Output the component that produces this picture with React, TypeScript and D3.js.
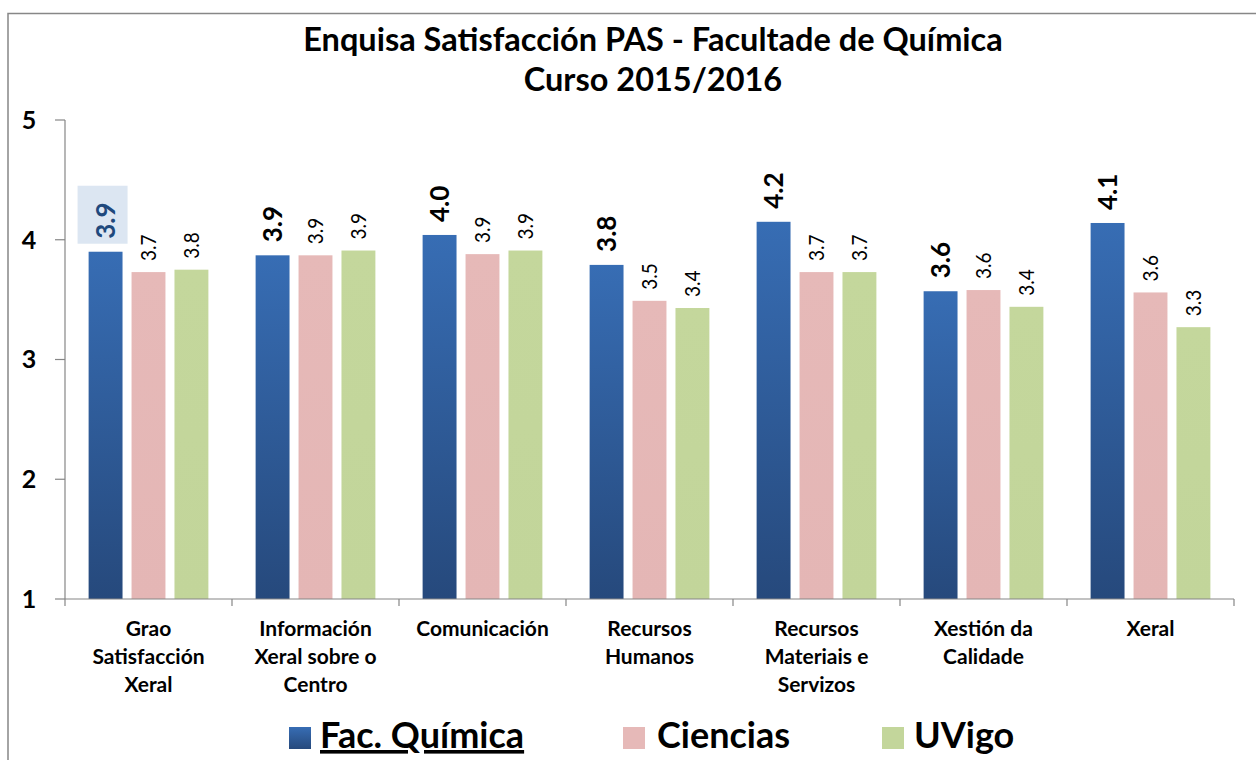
import React from "react";
import * as d3 from "d3";

const categories = [
  "Grao\nSatisfacción\nXeral",
  "Información\nXeral sobre o\nCentro",
  "Comunicación",
  "Recursos\nHumanos",
  "Recursos\nMateriais e\nServizos",
  "Xestión da\nCalidade",
  "Xeral",
];
const seriesNames = ["Fac. Química", "Ciencias", "UVigo"];
const facQuimica = [3.9, 3.87, 4.04, 3.79, 4.15, 3.57, 4.14];
const ciencias = [3.73, 3.87, 3.88, 3.49, 3.73, 3.58, 3.56];
const uvigo = [3.75, 3.91, 3.91, 3.43, 3.73, 3.44, 3.27];
const yTicks = [1, 2, 3, 4, 5];
const titleLines = ["Enquisa Satisfacción PAS - Facultade de Química", "Curso 2015/2016"];

const W = 1256;
const H = 760;
const FONT = "Lato, 'Open Sans', sans-serif";

export default function App() {
  const series = [facQuimica, ciencias, uvigo];
  const colors = ["url(#gBlue)", "url(#gPink)", "url(#gGreen)"];
  const swatch = ["#3465a8", "#e6b9b8", "#c3d69b"];
  const x0 = d3.scaleBand<number>().domain(d3.range(categories.length)).range([65, 1234]).padding(0);
  const x1 = d3
    .scaleBand<number>()
    .domain(d3.range(3))
    .range([0, x0.bandwidth()])
    .paddingInner(0.21)
    .paddingOuter(0.55);
  const y = d3.scaleLinear().domain([1, 5]).range([599, 120]);
  const baseY = y(1);

  return (
    <div style={{ position: "absolute", left: 0, top: 0 }}>
      <svg width={W} height={H} style={{ display: "block", background: "#fff" }}>
        <defs>
          <linearGradient id="gBlue" x1="0" y1="0" x2="0" y2="1">
            <stop offset="0" stopColor="#376db4" />
            <stop offset="1" stopColor="#26497c" />
          </linearGradient>
          <linearGradient id="gPink" x1="0" y1="0" x2="0" y2="1">
            <stop offset="0" stopColor="#e6b9b8" />
            <stop offset="1" stopColor="#e4b6b5" />
          </linearGradient>
          <linearGradient id="gGreen" x1="0" y1="0" x2="0" y2="1">
            <stop offset="0" stopColor="#c4d79c" />
            <stop offset="1" stopColor="#c2d59a" />
          </linearGradient>
        </defs>
        {/* frame */}
        <rect x={8} y={13.5} width={1260} height={800} fill="none" stroke="#878787" strokeWidth={1.5} />

        {/* title */}
        {titleLines.map((t, i) => (
          <text
            key={i}
            x={653}
            y={51 + i * 40}
            textAnchor="middle"
            fontFamily={FONT}
            fontWeight="bold"
            fontSize={32.5}
            fill="#000"
          >
            {t}
          </text>
        ))}

        {/* y axis */}
        <line x1={65} x2={65} y1={y(5)} y2={baseY} stroke="#868686" strokeWidth={1.2} />
        {yTicks.map((t) => (
          <g key={t}>
            <line x1={55} x2={65} y1={y(t)} y2={y(t)} stroke="#868686" strokeWidth={1.2} />
            <text
              x={29}
              y={y(t)}
              dy="0.35em"
              textAnchor="middle"
              fontFamily={FONT}
              fontWeight="bold"
              fontSize={25}
            >
              {t}
            </text>
          </g>
        ))}

        {/* bars */}
        {categories.map((c, ci) =>
          series.map((s, si) => {
            const bx = (x0(ci) as number) + (x1(si) as number);
            const bw = x1.bandwidth();
            const top = y(s[ci]);
            return (
              <rect
                key={`${ci}-${si}`}
                x={bx}
                y={top}
                width={bw}
                height={baseY - top}
                fill={colors[si]}
              />
            );
          })
        )}

        {/* x axis */}
        <line x1={65} x2={1234} y1={baseY} y2={baseY} stroke="#868686" strokeWidth={1.2} />
        {d3.range(categories.length + 1).map((i) => {
          const xx = 65 + i * x0.step();
          return <line key={i} x1={xx} x2={xx} y1={baseY} y2={baseY + 7} stroke="#868686" strokeWidth={1.2} />;
        })}

        {/* data labels */}
        {categories.map((c, ci) =>
          series.map((s, si) => {
            const cx = (x0(ci) as number) + (x1(si) as number) + x1.bandwidth() / 2;
            const top = y(s[ci]);
            const bold = si === 0;
            const gap = bold ? 13 : 11;
            const ly = top - gap;
            const label = d3.format(".1f")(s[ci]);
            return (
              <g key={`l-${ci}-${si}`}>
                {ci === 0 && si === 0 && (
                  <rect x={cx - 28} y={top - 66} width={50} height={58} fill="#dce6f2" />
                )}
                <text
                  transform={`translate(${cx},${ly}) rotate(-90) scale(1,${bold ? 1 : 1.15})`}
                  dy="0.36em"
                  textAnchor="start"
                  fontFamily={FONT}
                  fontWeight={bold ? "bold" : "normal"}
                  fontSize={bold ? 26 : 19}
                  fill={ci === 0 && si === 0 ? "#1f497d" : "#000"}
                >
                  {label}
                </text>
              </g>
            );
          })
        )}

        {/* category labels */}
        {categories.map((c, ci) => {
          const cx = (x0(ci) as number) + x0.bandwidth() / 2;
          return (
            <text
              key={`c-${ci}`}
              textAnchor="middle"
              fontFamily={FONT}
              fontWeight="bold"
              fontSize={21}
              fill="#000"
            >
              {c.split("\n").map((ln, li) => (
                <tspan key={li} x={cx} y={636 + li * 28}>
                  {ln}
                </tspan>
              ))}
            </text>
          );
        })}

        {/* legend */}
        {[
          { sx: 289, tx: 320 },
          { sx: 623, tx: 657 },
          { sx: 882, tx: 914 },
        ].map((p, i) => (
          <g key={`lg-${i}`}>
            <rect x={p.sx} y={727} width={22} height={22} fill={i === 0 ? "url(#gBlue)" : swatch[i]} />
            <text
              x={p.tx}
              y={748}
              fontFamily={FONT}
              fontWeight="bold"
              fontSize={36}
              fill="#000"
              textDecoration={i === 0 ? "underline" : undefined}
            >
              {seriesNames[i]}
            </text>
          </g>
        ))}
      </svg>
    </div>
  );
}
